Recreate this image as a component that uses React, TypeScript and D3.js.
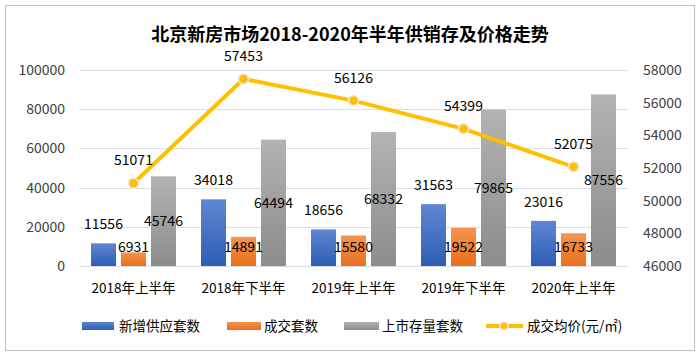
import React from "react";
import * as d3 from "d3";

const categories = ["2018年上半年", "2018年下半年", "2019年上半年", "2019年下半年", "2020年上半年"];
const newSupply = [11556, 34018, 18656, 31563, 23016];
const deals = [6931, 14891, 15580, 19522, 16733];
const stock = [45746, 64494, 68332, 79865, 87556];
const avgPrice = [51071, 57453, 56126, 54399, 52075];
const leftTicks = [0, 20000, 40000, 60000, 80000, 100000];
const rightTicks = [46000, 48000, 50000, 52000, 54000, 56000, 58000];
const title = "北京新房市场2018-2020年半年供销存及价格走势";
const seriesNames = ["新增供应套数", "成交套数", "上市存量套数", "成交均价(元/㎡)"];

const FONT = "'Noto Sans CJK SC', 'Noto Sans', sans-serif";

export default function App() {
  const W = 700, H = 356;
  const x = d3.scaleBand<string>().domain(categories).range([78.5, 628.5]);
  const yL = d3.scaleLinear().domain([0, 100000]).range([266, 70]);
  const yR = d3.scaleLinear().domain([46000, 58000]).range([266, 70]);
  const bw = 25;
  const off = [-30, 0, 30];
  const cx = (c: string) => (x(c) as number) + x.bandwidth() / 2;
  const line = d3.line<number>().x((_, i) => cx(categories[i])).y((v) => yR(v));
  const grads = [
    { id: "gBlue", top: "#5f87d2", bot: "#2e5db5" },
    { id: "gOrange", top: "#f4944f", bot: "#e8701c" },
    { id: "gGray", top: "#b3b3b3", bot: "#8c8c8c" },
  ];
  const series = [newSupply, deals, stock];
  const labelY = (s: number, v: number) => {
    if (s === 0) return yL(v) - 19;
    if (s === 1) return yL(0) - 19;
    return (yL(v) + yL(0)) / 2;
  };
  const legendItems = [
    { x: 82, w: 32, tx: 119 },
    { x: 227, w: 34, tx: 264 },
    { x: 344, w: 35, tx: 382 },
  ];
  const ly = 326;
  return (
    <svg width={W} height={H} style={{ position: "absolute", left: 0, top: 0, background: "#fff" }} fontFamily={FONT}>
      <defs>
        {grads.map((g) => (
          <linearGradient key={g.id} id={g.id} x1="0" y1="0" x2="0" y2="1">
            <stop offset="0" stopColor={g.top} />
            <stop offset="1" stopColor={g.bot} />
          </linearGradient>
        ))}
      </defs>
      <rect x={5.5} y={5.5} width={689} height={345} fill="#fff" stroke="#c0c0c0" strokeWidth={1} />
      <text x={350} y={41} textAnchor="middle" fontSize={18} fontWeight="bold" fill="#000">{title}</text>
      {leftTicks.map((t) => (
        <g key={t}>
          <line x1={79} x2={628} y1={Math.round(yL(t)) + 0.5} y2={Math.round(yL(t)) + 0.5} stroke="#dadfe8" strokeWidth={1} />
          <text x={65} y={yL(t)} dy="0.35em" textAnchor="end" fontSize={14} fill="#404040">{t}</text>
        </g>
      ))}
      {rightTicks.map((t) => (
        <text key={t} x={643} y={yR(t)} dy="0.35em" textAnchor="start" fontSize={14} fill="#404040">{t}</text>
      ))}
      {categories.map((c, i) => (
        <text key={c} x={cx(c)} y={288} dy="0.35em" textAnchor="middle" fontSize={13.5} fill="#000">{c}</text>
      ))}
      {series.map((vals, s) =>
        vals.map((v, i) => (
          <rect key={`${s}-${i}`} x={cx(categories[i]) + off[s] - bw / 2} y={yL(v)} width={bw} height={yL(0) - yL(v)} fill={`url(#${grads[s].id})`} />
        ))
      )}
      <path d={line(avgPrice) as string} fill="none" stroke="#ffc000" strokeWidth={4} strokeLinejoin="round" />
      {avgPrice.map((v, i) => (
        <circle key={i} cx={cx(categories[i])} cy={yR(v)} r={5} fill="#ffc000" stroke="#e8e8e8" strokeWidth={1.5} />
      ))}
      {series.map((vals, s) =>
        vals.map((v, i) => (
          <text key={`l${s}-${i}`} x={cx(categories[i]) + off[s]} y={labelY(s, v)} dy="0.35em" textAnchor="middle" fontSize={14} fill="#000">{v}</text>
        ))
      )}
      {avgPrice.map((v, i) => (
        <text key={`lp${i}`} x={cx(categories[i])} y={yR(v) - 23} dy="0.35em" textAnchor="middle" fontSize={14} fill="#000">{v}</text>
      ))}
      {legendItems.map((it, s) => (
        <g key={s}>
          <rect x={it.x} y={ly - 4} width={it.w} height={8} fill={`url(#${grads[s].id})`} />
          <text x={it.tx} y={ly} dy="0.35em" fontSize={13.5} fill="#000">{seriesNames[s]}</text>
        </g>
      ))}
      <line x1={486} x2={523} y1={ly} y2={ly} stroke="#ffc000" strokeWidth={4} />
      <circle cx={504} cy={ly} r={4} fill="#ffc000" stroke="#e8e8e8" strokeWidth={1.5} />
      <text x={527} y={ly} dy="0.35em" fontSize={13.5} fill="#000">{seriesNames[3]}</text>
    </svg>
  );
}
